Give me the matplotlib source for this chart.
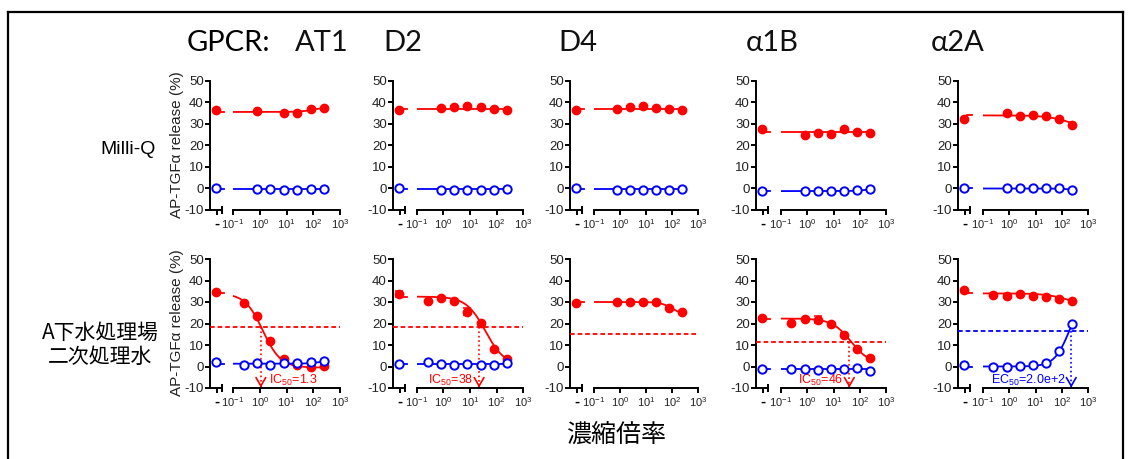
import numpy as np
import matplotlib
matplotlib.use('Agg')
import matplotlib.pyplot as plt
import matplotlib.transforms as mtransforms
from matplotlib.lines import Line2D
from matplotlib.ticker import FixedLocator, NullLocator

plt.rcParams['font.family'] = ['Liberation Sans', 'Noto Sans CJK JP', 'DejaVu Sans']
plt.rcParams['mathtext.fontset'] = 'custom'
plt.rcParams['mathtext.rm'] = 'Liberation Sans'
plt.rcParams['mathtext.it'] = 'Liberation Sans:italic'
plt.rcParams['mathtext.bf'] = 'Liberation Sans:bold'

W, H = 1130, 459
RED = '#FF0000'
BLUE = '#0000FF'
nan = np.nan

receptors = ['AT1', 'D2', 'D4', 'α1B', 'α2A']
row_names = ['Milli-Q', 'A下水処理場\n二次処理水']

# concentration factor of the dilution series
conc = [0.25, 0.79, 2.5, 7.9, 25, 79, 250]
xticks = [0.1, 1, 10, 100, 1000]
xticklabels = ['10^{-1}', '10^{0}', '10^{1}', '10^{2}', '10^{3}']
yticks = [-10, 0, 10, 20, 30, 40, 50]

# ---- Milli-Q row
mq_red_ctrl = [36.4, 36.7, 36.7, 27.5, 32.5]
mq_red = [
    [nan, 35.9, nan, 35.2, 35.3, 36.8, 37.4],
    [nan, 37.3, 37.9, 38.5, 37.8, 37.2, 36.7],
    [nan, 37.2, 37.7, 38.4, 37.6, 37.1, 36.7],
    [nan, 24.7, 25.8, 25.2, 27.5, 26.4, 26.0],
    [nan, 35.1, 33.8, 34.3, 33.5, 32.5, 29.7],
]
mq_blue_ctrl = [0.0, 0.0, 0.0, -1.1, 0.0]
mq_blue = [
    [nan, -0.4, -0.4, -0.6, -0.6, -0.4, -0.3],
    [nan, -0.5, -0.5, -0.8, -0.8, -0.5, -0.3],
    [nan, -0.5, -0.5, -0.8, -0.8, -0.5, -0.3],
    [nan, -1.1, -1.2, -1.1, -1.1, -0.8, -0.3],
    [nan, 0.3, 0.0, 0.0, 0.15, 0.0, -0.5],
]
# fit: (left level, right level, midpoint, hill)
mq_red_fit = [(35.6, 38.5, 150, 1.5), (37.0, 37.0, 10, 1), (37.0, 37.0, 10, 1),
              (26.1, 26.1, 10, 1), (34.0, 28.0, 178, 1)]
mq_blue_fit = [(-0.4, -0.4, 10, 1), (-0.4, -0.4, 10, 1), (-0.4, -0.4, 10, 1),
               (-1.2, -0.2, 150, 2), (0.0, -0.6, 150, 2)]

# ---- A sewage plant secondary effluent row
ww_red_ctrl = [34.8, 33.6, 29.7, 22.7, 35.4]
ww_red_ctrl_err = [0, 1.5, 0, 0, 0]
ww_red = [
    [29.6, 23.4, 11.8, 3.7, 0.6, -0.2, 0.3],
    [30.5, 31.9, 30.3, 25.5, 20.4, 8.2, 3.6],
    [nan, 29.9, 29.9, 29.9, 30.0, 27.2, 25.4],
    [20.1, 22.1, 21.8, 19.8, 14.7, 8.1, 4.0],
    [33.1, 32.9, 33.6, 32.9, 32.4, 31.6, 30.5],
]
ww_red_err = [
    [0, 0, 0, 0, 0, 0, 0],
    [0, 0, 0, 1.7, 0, 0, 0],
    [0, 0, 0, 0, 0, 0, 0],
    [0, 0, 1.5, 0, 1.0, 0, 0],
    [0, 0, 0, 0, 0, 0, 0],
]
ww_blue_ctrl = [2.1, 1.3, nan, -1.2, 0.5]
ww_blue = [
    [0.6, 1.7, 0.6, 1.7, 1.7, 2.0, 2.6],
    [1.9, 1.3, 0.5, 1.0, 0.5, 0.8, 1.6],
    [nan, nan, nan, nan, nan, nan, nan],
    [-1.2, -1.2, -1.5, -1.2, -1.3, -0.5, -2.1],
    [0.0, -0.1, 0.2, 0.5, 1.4, 7.0, 19.8],
]
ww_red_fit = [(34.0, -0.5, 1.3, 1.3), (32.5, 0.5, 38, 1.2), (30.0, 24.0, 100, 2),
              (22.3, 1.0, 46, 1.2), (34.0, 28.0, 178, 1)]
ww_blue_fit = [(1.3, 2.6, 150, 2), (1.2, 1.2, 10, 1), None,
               (-1.2, -1.2, 10, 1), (0.0, 34.0, 200, 1.5)]

# 50% lines and IC50/EC50 markers (wastewater row)
half_level = [18.5, 18.3, 14.9, 11.2, 16.6]
half_color = [RED, RED, RED, RED, BLUE]
arrow_x = [1.1, 22, None, 40, 230]
arrow_text = [r'IC$_{\mathregular{50}}$=1.3', r'IC$_{\mathregular{50}}$=38', None,
              r'IC$_{\mathregular{50}}$=46', r'EC$_{\mathregular{50}}$=2.0e+2']
arrow_text_side = ['right', 'left', None, 'left', 'left']

rows = [
    dict(red_ctrl=mq_red_ctrl, red=mq_red, blue_ctrl=mq_blue_ctrl, blue=mq_blue,
         red_fit=mq_red_fit, blue_fit=mq_blue_fit, red_err=None, red_ctrl_err=None),
    dict(red_ctrl=ww_red_ctrl, red=ww_red, blue_ctrl=ww_blue_ctrl, blue=ww_blue,
         red_fit=ww_red_fit, blue_fit=ww_blue_fit, red_err=ww_red_err,
         red_ctrl_err=ww_red_ctrl_err),
]

# pixel layout: (y axis, end of control segment, log start, log end)
col_px = [(210, 222, 233, 340), (393, 405, 417, 523), (570, 582, 594, 698),
          (756, 768, 781, 886), (958, 970, 983, 1088)]
row_px = [(81, 210), (259, 388)]


def rect(x0, x1, r):
    ytop, ybot = row_px[r]
    return [x0 / W, 1 - ybot / H, (x1 - x0) / W, (ybot - ytop) / H]


def fit_curve(x, left, right, mid, hill):
    return right + (left - right) / (1 + (x / mid) ** hill)


fig = plt.figure(figsize=(W / 100, H / 100), dpi=100)

for r, d in enumerate(rows):
    for c in range(5):
        xy, xce, xls, xle = col_px[c]
        ax0 = fig.add_axes(rect(xy, xce, r))
        ax1 = fig.add_axes(rect(xls, xle, r))
        for ax in (ax0, ax1):
            ax.set_ylim(-10, 50)
            ax.patch.set_alpha(0)
            for s in ('top', 'right'):
                ax.spines[s].set_visible(False)
            for s in ('left', 'bottom'):
                ax.spines[s].set_linewidth(1.4)
            ax.tick_params(width=1.4, length=3.5, color='black')
        ax1.spines['left'].set_visible(False)
        ax1.yaxis.set_major_locator(NullLocator())

        # control segment
        ax0.set_xlim(0, 1)
        ax0.set_xticks([0.55])
        ax0.set_xticklabels(['-'], fontsize=11, fontweight='bold')
        ax0.xaxis.set_minor_locator(FixedLocator([1.0]))
        ax0.tick_params(axis='x', which='minor', direction='inout', length=6, width=1.4)
        ax0.tick_params(axis='x', pad=1.5)
        ax0.set_yticks(yticks)
        ax0.set_yticklabels([str(v) for v in yticks], fontsize=9.5, color='#222222')
        ax0.tick_params(axis='y', pad=1)

        # log segment
        ax1.set_xscale('log')
        ax1.set_xlim(0.1, 1000)
        ax1.xaxis.set_major_locator(FixedLocator(xticks))
        ax1.set_xticklabels([r'$\mathregular{%s}$' % t for t in xticklabels],
                            fontsize=8, color='#222222')
        ax1.xaxis.set_minor_locator(FixedLocator([0.1, 1000]))
        ax1.tick_params(axis='x', which='minor', direction='inout', length=6, width=1.4)
        ax1.tick_params(axis='x', pad=2)

        xs = np.logspace(-1, np.log10(250), 200)
        series = [('red', RED), ('blue', BLUE)]
        for key, col in series:
            fit = d[key + '_fit'][c]
            if fit is None:
                continue
            ax1.plot(xs, fit_curve(xs, *fit), color=col, lw=1.3, zorder=2)
            ax0.plot([0.75, 1.2], [fit[0], fit[0]], color=col, lw=1.3, clip_on=False)

        # red filled circles
        ax0.plot([0.5], [d['red_ctrl'][c]], 'o', color=RED, ms=6, clip_on=False, zorder=3)
        ax1.plot(conc, d['red'][c], 'o', color=RED, ms=6, clip_on=False, zorder=3)
        if d['red_err'] is not None:
            ax1.errorbar(conc, d['red'][c], yerr=d['red_err'][c], fmt='none',
                         ecolor=RED, elinewidth=1.1, capsize=3, capthick=1.1, zorder=3)
            if d['red_ctrl_err'][c]:
                ax0.errorbar([0.5], [d['red_ctrl'][c]], yerr=[d['red_ctrl_err'][c]],
                             fmt='none', ecolor=RED, elinewidth=1.1, capsize=3,
                             capthick=1.1, clip_on=False)

        # blue open circles
        ax0.plot([0.5], [d['blue_ctrl'][c]], 'o', mfc='white', mec=BLUE, mew=1.4,
                 ms=6, clip_on=False, zorder=4)
        ax1.plot(conc, d['blue'][c], 'o', mfc='white', mec=BLUE, mew=1.4, ms=6,
                 clip_on=False, zorder=4)

        if r == 1:
            trans = mtransforms.blended_transform_factory(fig.transFigure, ax1.transData)
            fig.add_artist(Line2D([xy / W, xle / W], [half_level[c]] * 2, transform=trans,
                                  color=half_color[c], lw=1.3, ls=(0, (2.6, 1.6))))
            if arrow_x[c] is not None:
                col = half_color[c]
                ax1.plot([arrow_x[c]] * 2, [half_level[c], -9.5], ls=':', color=col, lw=1.2)
                ax1.annotate('', xy=(arrow_x[c], -9.8), xytext=(arrow_x[c], -8.5),
                             arrowprops=dict(arrowstyle='->,head_length=0.6,head_width=0.35',
                                             color=col, lw=1.2, shrinkA=0, shrinkB=0))
                if arrow_text_side[c] == 'right':
                    off, ha = 6, 'left'
                else:
                    off, ha = -4, 'right'
                ax1.annotate(arrow_text[c], xy=(arrow_x[c], -6.3), xytext=(off, 0),
                             textcoords='offset points', ha=ha, va='center',
                             color=col, fontsize=9)


def ftext(x, y, s, **kw):
    fig.text(x / W, 1 - y / H, s, **kw)


# headers
ftext(187, 43, 'GPCR:', fontsize=21, family=['Lato', 'DejaVu Sans'], va='center', ha='left')
header_x = [322, 403, 578, 772, 958]
for hx, name in zip(header_x, receptors):
    ftext(hx, 43, name, fontsize=21, family=['Lato', 'DejaVu Sans'], va='center',
          ha='center', color='#111111')

# row labels
ftext(128, 150, row_names[0], fontsize=14, va='center', ha='center')
ftext(100, 345, row_names[1], fontsize=15, va='center', ha='center',
      family=['Noto Sans CJK JP'], linespacing=1.1)

# y labels
for yc in (145, 323):
    ftext(177, yc, 'AP-TGFα release (%)', fontsize=11, rotation=90,
          va='center', ha='center', color='#222222')

# x label
ftext(616, 435, '濃縮倍率', fontsize=18, va='center', ha='center',
      family=['Noto Sans CJK JP'])

# frame
for xs_, ys_ in [([8, 8], [12, 470]), ([8, 1123], [12, 12]), ([1123, 1123], [12, 470])]:
    fig.add_artist(Line2D([v / W for v in xs_], [1 - v / H for v in ys_],
                          transform=fig.transFigure, color='black', lw=1.6))

fig.savefig('out.png', dpi=100)
